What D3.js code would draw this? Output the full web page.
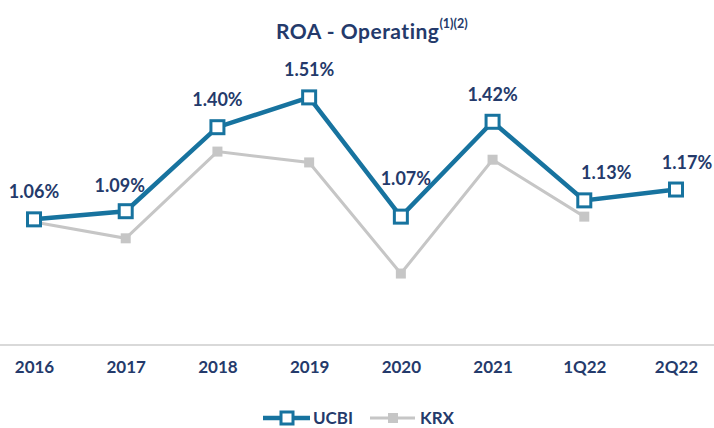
<!DOCTYPE html>
<html>
<head>
<meta charset="utf-8">
<script src="https://cdn.jsdelivr.net/npm/d3@7"></script>
<style>
  body { margin: 0; background: #fff; }
  text { font-family: Lato, "Open Sans", sans-serif; font-weight: bold; }
</style>
</head>
<body>
<div id="chart"></div>
<script>
// Data
const categories = ["2016", "2017", "2018", "2019", "2020", "2021", "1Q22", "2Q22"];
const ucbi = [1.06, 1.09, 1.40, 1.51, 1.07, 1.42, 1.13, 1.17];
const krx = [1.05, 0.99, 1.31, 1.27, 0.86, 1.28, 1.07, null];
const seriesNames = ["UCBI", "KRX"];

// label nudges (layout only)
const labelDx = [0, -6, 0, 0, 5, 0, 22, 11];
const labelDy = [-21, -19, -21, -21, -32, -21, -21, -21];

const width = 714, height = 428;
const navy = "#243a6b";
const blue = "#17739f";
const grey = "#c6c6c6";

const svg = d3.select("#chart")
  .append("svg")
  .attr("width", width)
  .attr("height", height);

// scales
let x = d3.scalePoint().domain(categories).range([34, 676]);
let y = d3.scaleLinear().domain([0.6, 1.6]).range([344, 73]);

// title
const title = svg.append("text")
  .attr("x", 276)
  .attr("y", 39)
  .attr("fill", navy)
  .style("font-size", "21px")
  .style("letter-spacing", "0.5px");
title.append("tspan").text("ROA - Operating");
title.append("tspan")
  .attr("dy", -11)
  .style("font-size", "12.5px")
  .style("letter-spacing", "0px")
  .text("(1)(2)");

// baseline axis
svg.append("line")
  .attr("x1", 0).attr("x2", width)
  .attr("y1", 345).attr("y2", 345)
  .attr("stroke", "#d9d9d9")
  .attr("stroke-width", 2);

const xAxis = svg.append("g")
  .attr("transform", "translate(0,345)")
  .call(d3.axisBottom(x).tickSize(0).tickPadding(16));
xAxis.select(".domain").remove();
xAxis.selectAll("text")
  .attr("fill", navy)
  .style("font-size", "17px")
  .style("font-family", "Lato, sans-serif");

// KRX line
const krxData = categories.map((c, i) => ({ cat: c, v: krx[i] })).filter(d => d.v != null);
const line = d3.line().x(d => x(d.cat)).y(d => y(d.v));

svg.append("path")
  .datum(krxData)
  .attr("fill", "none")
  .attr("stroke", grey)
  .attr("stroke-width", 3)
  .attr("d", line);

svg.append("g")
  .selectAll("rect")
  .data(krxData)
  .join("rect")
  .attr("x", d => x(d.cat) - 5)
  .attr("y", d => y(d.v) - 5)
  .attr("width", 10)
  .attr("height", 10)
  .attr("fill", grey);

// UCBI line
const ucbiData = categories.map((c, i) => ({ cat: c, v: ucbi[i], i: i }));

svg.append("path")
  .datum(ucbiData)
  .attr("fill", "none")
  .attr("stroke", blue)
  .attr("stroke-width", 4.5)
  .attr("d", line);

svg.append("g")
  .selectAll("rect")
  .data(ucbiData)
  .join("rect")
  .attr("x", d => x(d.cat) - 6.5)
  .attr("y", d => y(d.v) - 6.5)
  .attr("width", 13)
  .attr("height", 13)
  .attr("fill", "#fff")
  .attr("stroke", blue)
  .attr("stroke-width", 3);

// value labels
svg.append("g")
  .selectAll("text")
  .data(ucbiData)
  .join("text")
  .attr("x", d => x(d.cat) + labelDx[d.i])
  .attr("y", d => y(d.v) + labelDy[d.i])
  .attr("text-anchor", "middle")
  .attr("fill", navy)
  .style("font-size", "18px")
  .text(d => d.v.toFixed(2) + "%");

// legend
const legend = svg.append("g").attr("transform", "translate(0,418)");
legend.append("line")
  .attr("x1", 263).attr("x2", 310)
  .attr("stroke", blue).attr("stroke-width", 4.5);
legend.append("rect")
  .attr("x", 281).attr("y", -6)
  .attr("width", 12).attr("height", 12)
  .attr("fill", "#fff").attr("stroke", blue).attr("stroke-width", 3);
legend.append("text")
  .attr("x", 313).attr("y", 6)
  .attr("fill", navy)
  .style("font-size", "17px")
  .text(seriesNames[0]);

legend.append("line")
  .attr("x1", 370).attr("x2", 415)
  .attr("stroke", grey).attr("stroke-width", 3);
legend.append("rect")
  .attr("x", 388).attr("y", -5)
  .attr("width", 10).attr("height", 10)
  .attr("fill", grey);
legend.append("text")
  .attr("x", 420).attr("y", 6)
  .attr("fill", navy)
  .style("font-size", "17px")
  .text(seriesNames[1]);
</script>
</body>
</html>
